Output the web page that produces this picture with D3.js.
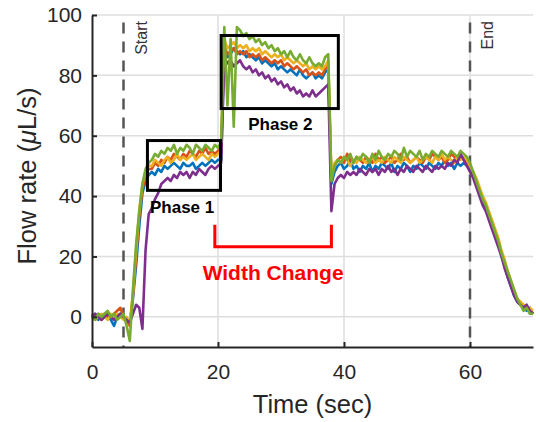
<!DOCTYPE html>
<html>
<head>
<meta charset="utf-8">
<script src="https://cdn.jsdelivr.net/npm/d3@7"></script>
<style>
  html, body { margin: 0; padding: 0; background: #fff; }
  svg { display: block; font-family: "Liberation Sans", Arial, sans-serif; }
</style>
</head>
<body>
<svg id="chart" width="536" height="422"></svg>
<script>
// Sample times: 0 to 70 s every 0.5 s
const times = d3.range(0, 70.001, 0.5);

// Flow rate (µL/s) per run, one value per sample time
const run1 = [0,1,-1,0,1,0,-1,-3,0,1,0,-2,
  -2,6,17,30,41,45,47,
  48,47,49,48,50,49,50,51,50,49,51,50,50,51,49,50,51,50,51,52,51,52,
  52,
  88,86,87,89,88,87,88,86,87,86,85,86,84,85,84,83,84,82,83,82,81,82,81,80,82,80,79,80,81,79,80,79,81,82,
  44,
  48,50,51,49,50,52,49,50,48,50,49,51,48,50,49,51,50,49,51,48,50,49,51,50,48,50,49,51,50,49,51,50,49,51,50,52,50,51,49,51,50,51,50,
  49,47,44,41,39,36,33,30,27,24,20,17,13,10,7,5,4,3,2,3,1];

const run2 = [1,0,1,-1,0,1,0,1,2,3,0,-1,
  -3,7,20,33,42,47,49,
  49,51,50,52,51,53,52,54,53,52,54,53,55,54,53,55,54,56,54,55,54,55,
  56,
  90,87,88,89,87,88,87,88,86,87,86,87,85,86,85,84,85,84,85,83,84,83,82,83,82,81,82,80,81,80,81,80,82,84,
  46,
  50,52,53,51,54,52,51,53,52,51,53,52,51,54,52,53,51,52,53,51,52,54,52,53,51,52,53,52,51,53,52,54,53,52,53,51,52,54,53,52,53,52,51,
  50,48,45,42,40,37,34,31,28,25,21,18,14,11,8,6,4,3,3,2,2];

const run3 = [0,-1,0,1,0,-1,1,0,1,0,-1,0,
  -2,8,22,35,44,48,50,
  50,52,51,50,52,53,51,52,54,52,53,52,53,54,52,53,54,53,52,54,53,54,
  55,
  92,89,90,91,89,90,89,90,88,89,88,89,87,88,87,86,87,86,87,85,86,85,84,85,84,83,84,82,83,82,83,82,83,85,
  47,
  51,52,51,53,52,50,52,51,53,52,51,52,53,51,52,51,53,52,51,53,52,51,53,52,51,52,53,51,52,53,52,51,53,52,54,52,53,52,51,53,52,53,52,
  50,48,46,43,40,38,35,32,29,26,22,19,15,12,9,6,5,4,3,3,2];

const run4 = [0,1,0,-1,0,1,0,-1,0,1,0,-1,
  -2,1,4,3,-4,22,34,
  36,39,41,44,45,46,45,47,46,48,47,48,46,48,47,49,48,47,49,50,49,50,
  51,
  86,84,85,83,84,85,83,82,83,81,82,80,81,79,80,78,79,77,78,76,77,75,76,74,75,73,74,73,75,73,74,75,76,77,
  35,
  44,46,47,46,48,47,48,47,49,48,47,49,48,49,47,49,48,50,48,49,47,49,48,50,49,48,50,49,48,50,49,48,50,49,50,49,51,50,52,51,54,52,50,
  48,46,43,40,37,35,32,29,26,23,20,16,13,10,7,5,4,3,4,2,1];

const run5 = [0,-1,1,0,1,2,0,1,-1,0,1,-3,
  -8,9,24,35,44,49,51,
  52,54,53,55,54,56,55,57,54,56,55,57,56,54,57,56,55,57,56,55,57,56,
  58,
  96,70,92,63,96,95,93,94,92,93,91,92,90,91,89,90,88,89,87,88,86,88,86,85,87,85,84,86,84,83,84,83,86,87,
  45,
  50,52,51,53,52,54,51,53,52,54,53,51,54,52,55,53,52,54,53,55,54,52,56,53,55,54,53,55,52,54,53,55,54,53,55,54,53,55,54,53,55,54,53,
  51,48,45,42,39,37,34,31,28,25,21,18,15,12,9,6,4,2,3,1,1];

const runs = [run1, run2, run3, run4, run5];
const runColors = ["#0072BD", "#D95319", "#EDB120", "#7E2F8E", "#77AC30"];

const xTicks = [0, 20, 40, 60];
const yTicks = [0, 20, 40, 60, 80, 100];

// Event markers (s)
const events = [{t: 5, label: "Start"}, {t: 60, label: "End"}];

const svg = d3.select("#chart");
const x = d3.scaleLinear().domain([0, 70]).range([92, 533]);
const y = d3.scaleLinear().domain([-10, 100]).range([347, 15]);
const ink = "#262626";

// Grid
const grid = svg.append("g").attr("stroke", "#dedede").attr("stroke-width", 1.5);
grid.selectAll("line.h").data(yTicks).join("line")
  .attr("x1", x(0)).attr("x2", x(70))
  .attr("y1", d => y(d)).attr("y2", d => y(d));
grid.selectAll("line.v").data(xTicks.filter(d => d > 0)).join("line")
  .attr("x1", d => x(d)).attr("x2", d => x(d))
  .attr("y1", y(100)).attr("y2", y(-10));

// Event lines
const ev = svg.append("g");
ev.selectAll("line").data(events).join("line")
  .attr("x1", d => x(d.t)).attr("x2", d => x(d.t))
  .attr("y1", y(97.5)).attr("y2", y(-10))
  .attr("stroke", "#555").attr("stroke-width", 2.5)
  .attr("stroke-dasharray", "11,8");
ev.selectAll("text").data(events).join("text")
  .attr("transform", d => `translate(${x(d.t) + 23},${y(98)}) rotate(-90)`)
  .attr("text-anchor", "end")
  .attr("font-size", 16)
  .attr("fill", "#333")
  .text(d => d.label);

// Series
const line = d3.line().x((d, i) => x(times[i])).y(d => y(d));
svg.append("g").selectAll("path").data(runs).join("path")
  .attr("d", line)
  .attr("fill", "none")
  .attr("stroke", (d, i) => runColors[i])
  .attr("stroke-width", 2.6)
  .attr("stroke-linejoin", "round");

// Axes
const xAxis = d3.axisBottom(x).tickValues(xTicks).tickSizeInner(-5).tickSizeOuter(0).tickPadding(17);
const yAxis = d3.axisLeft(y).tickValues(yTicks).tickSizeInner(-5).tickSizeOuter(0).tickPadding(10);
const gx = svg.append("g").attr("transform", `translate(0,${y(-10)})`).call(xAxis);
const gy = svg.append("g").attr("transform", `translate(${x(0)},0)`).call(yAxis);
[gx, gy].forEach(g => {
  g.select(".domain").attr("stroke", ink).attr("stroke-width", 2);
  g.selectAll(".tick line").attr("stroke", ink).attr("stroke-width", 2);
  g.selectAll(".tick text").attr("fill", ink).attr("font-size", 21)
    .attr("font-family", "Liberation Sans, Arial, sans-serif");
});

// Axis titles
svg.append("text")
  .attr("x", (x(0) + x(70)) / 2).attr("y", 413)
  .attr("text-anchor", "middle").attr("font-size", 25.5).attr("fill", ink)
  .text("Time (sec)");
const yl = svg.append("text")
  .attr("transform", `translate(36,${(y(100) + y(-10)) / 2 - 5}) rotate(-90)`)
  .attr("text-anchor", "middle").attr("font-size", 25.5).attr("fill", ink);
yl.append("tspan").text("Flow rate (");
yl.append("tspan").attr("font-style", "italic").text("\u03BC");
yl.append("tspan").text("L/s)");

// Phase boxes
const phases = [
  {x0: 8.8, x1: 20.4, y0: 41.9, y1: 58.4, label: "Phase 1", lx: 14.3, ly: 34.5},
  {x0: 20.5, x1: 39.1, y0: 69.0, y1: 93.2, label: "Phase 2", lx: 29.9, ly: 61.8}
];
const ph = svg.append("g");
ph.selectAll("rect").data(phases).join("rect")
  .attr("x", d => x(d.x0)).attr("y", d => y(d.y1))
  .attr("width", d => x(d.x1) - x(d.x0)).attr("height", d => y(d.y0) - y(d.y1))
  .attr("fill", "none").attr("stroke", "#000").attr("stroke-width", 3);
ph.selectAll("text").data(phases).join("text")
  .attr("x", d => x(d.lx)).attr("y", d => y(d.ly))
  .attr("text-anchor", "middle").attr("font-size", 17).attr("font-weight", "bold")
  .attr("fill", "#000")
  .text(d => d.label);

// Width change bracket
const bx0 = 19.5, bx1 = 38.0, byTop = 30.5, byBot = 23.2;
svg.append("path")
  .attr("d", `M${x(bx0)},${y(byTop)}V${y(byBot)}H${x(bx1)}V${y(byTop)}`)
  .attr("fill", "none").attr("stroke", "#ff0000").attr("stroke-width", 3);
svg.append("text")
  .attr("x", x((bx0 + bx1) / 2)).attr("y", 280)
  .attr("text-anchor", "middle").attr("font-size", 21).attr("font-weight", "bold")
  .attr("fill", "#ff0000")
  .text("Width Change");
</script>
</body>
</html>
